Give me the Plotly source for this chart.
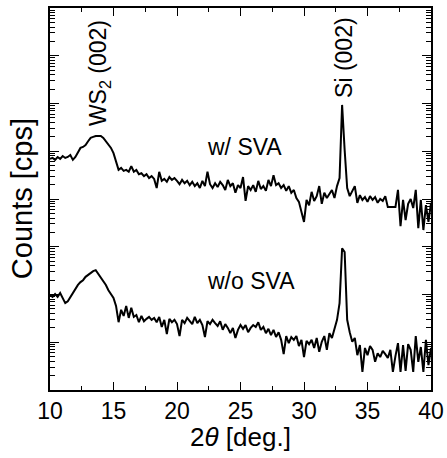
import numpy as np
import plotly.graph_objects as go

# XRD scans, 2theta sampled every 0.2 deg from 10 to 40
two_theta = np.round(np.arange(10.0, 40.0001, 0.2), 1)

# log10 of counts, upper scan is offset for display
log_counts_with_sva = [
    4.84, 4.86, 4.82, 4.88, 4.84, 4.90, 4.86, 4.88, 4.92, 4.82,
    4.88, 4.98, 5.07, 5.09, 5.13, 5.21, 5.28, 5.30, 5.32, 5.32,
    5.32, 5.28, 5.21, 5.13, 5.07, 4.96, 4.77, 4.61, 4.65, 4.59,
    4.61, 4.57, 4.69, 4.57, 4.61, 4.52, 4.54, 4.48, 4.52, 4.44,
    4.48, 4.42, 4.23, 4.57, 4.38, 4.42, 4.36, 4.46, 4.40, 4.44,
    4.38, 4.31, 4.40, 4.33, 4.38, 4.29, 4.36, 4.27, 4.33, 4.23,
    4.38, 4.27, 4.57, 4.31, 4.23, 4.33, 4.25, 4.36, 4.29, 4.19,
    4.40, 4.27, 4.33, 4.13, 4.29, 4.23, 4.46, 3.96, 4.27, 4.19,
    4.29, 4.15, 4.38, 4.21, 4.27, 4.17, 4.40, 4.27, 4.50, 4.29,
    4.33, 4.23, 4.29, 4.17, 4.27, 4.13, 4.19, 4.02, 3.94, 3.73,
    3.52, 3.98, 3.87, 4.15, 3.96, 4.06, 4.27, 3.90, 4.13, 4.02,
    4.10, 4.19, 4.02, 4.27, 4.44, 5.97, 5.03, 4.23, 4.06, 4.15,
    4.27, 3.92, 4.08, 3.98, 4.04, 3.94, 4.06, 3.98, 4.04, 3.92,
    4.00, 3.96, 4.06, 3.83, 3.83, 3.83, 3.83, 4.19, 3.43, 3.98,
    3.56, 3.90, 4.00, 3.81, 4.19, 3.39, 3.98, 3.35, 3.87, 3.52,
    3.92,
]

log_counts_without_sva = [
    1.99, 1.95, 2.01, 1.95, 2.03, 1.93, 1.82, 1.86, 1.95, 2.03,
    2.12, 2.20, 2.26, 2.30, 2.37, 2.41, 2.45, 2.49, 2.51, 2.43,
    2.37, 2.28, 2.20, 2.09, 2.01, 1.93, 1.76, 1.42, 1.68, 1.55,
    1.76, 1.51, 1.72, 1.53, 1.57, 1.42, 1.55, 1.44, 1.49, 1.53,
    1.47, 1.51, 1.42, 1.53, 1.32, 1.47, 1.17, 1.49, 1.42, 1.47,
    1.38, 1.13, 1.47, 1.40, 1.51, 1.44, 1.38, 1.53, 1.40, 1.47,
    1.36, 1.11, 1.44, 1.38, 1.47, 1.40, 1.34, 1.44, 1.26, 1.38,
    1.30, 1.19, 1.30, 1.09, 1.26, 1.36, 1.28, 1.36, 1.21, 1.30,
    1.36, 1.32, 1.42, 1.26, 1.32, 1.19, 1.28, 1.15, 1.26, 1.11,
    1.21, 1.05, 0.75, 1.13, 0.98, 1.11, 1.05, 1.13, 0.92, 1.05,
    0.69, 1.03, 0.96, 1.05, 0.88, 1.09, 0.80, 1.01, 1.13, 0.84,
    1.19, 1.09, 1.30, 1.47, 1.82, 2.97, 2.89, 1.47, 1.21, 1.01,
    1.09, 0.73, 0.94, 0.38, 0.88, 0.73, 0.92, 0.84, 0.59, 0.77,
    0.69, 0.82, 0.75, 0.67, 0.84, 0.38, 0.71, 0.98, 0.38, 0.94,
    0.40, 0.96, 0.84, 0.38, 1.13, 0.59, 0.90, 0.38, 1.05, 0.52,
    0.88,
]

counts_with = 10 ** np.array(log_counts_with_sva)
counts_without = 10 ** np.array(log_counts_without_sva)

FONT = "Liberation Sans, Arial, Helvetica, sans-serif"

fig = go.Figure()

fig.add_trace(
    go.Scatter(
        x=two_theta,
        y=counts_with,
        mode="lines",
        line=dict(color="black", width=2),
        showlegend=False,
    )
)
fig.add_trace(
    go.Scatter(
        x=two_theta,
        y=counts_without,
        mode="lines",
        line=dict(color="black", width=2),
        showlegend=False,
    )
)

# peak labels and sample labels
fig.add_annotation(
    x=13.95, y=0.686, yref="paper", text="WS<sub>2</sub> (002)",
    textangle=-90, yanchor="bottom", showarrow=False,
    font=dict(size=23, color="black"),
)
fig.add_annotation(
    x=33.1, y=0.759, yref="paper", text="Si (002)",
    textangle=-90, yanchor="bottom", showarrow=False,
    font=dict(size=23, color="black"),
)
fig.add_annotation(
    x=22.2, y=0.635, yref="paper", text="w/ SVA", xanchor="left",
    showarrow=False, font=dict(size=23, color="black"),
)
fig.add_annotation(
    x=22.2, y=0.246, yref="paper", text="w/o SVA", xanchor="left",
    showarrow=False, font=dict(size=23, color="black"),
)
# axis titles as annotations for exact placement
fig.add_annotation(
    x=-0.073, y=0.5, xref="paper", yref="paper", text="Counts [cps]",
    xanchor="center", yanchor="middle",
    textangle=-90, showarrow=False, font=dict(size=29, color="black"),
)
fig.add_annotation(
    x=0.5, y=-0.122, xref="paper", yref="paper", text="2<i>θ</i> [deg.]",
    xanchor="center", yanchor="middle", showarrow=False,
    font=dict(size=26, color="black"),
)

fig.update_layout(
    width=447,
    height=458,
    template="plotly_white",
    plot_bgcolor="white",
    paper_bgcolor="white",
    font=dict(family=FONT, color="black", size=23),
    margin=dict(l=50, r=16, t=8, b=68),
)

fig.update_xaxes(
    range=[10, 40],
    dtick=5,
    tick0=10,
    ticks="inside",
    ticklen=8,
    tickwidth=1.2,
    tickcolor="black",
    minor=dict(dtick=2.5, ticks="inside", ticklen=4, tickwidth=1.2, tickcolor="black"),
    showline=True,
    linecolor="black",
    linewidth=1.5,
    mirror="ticks",
    showgrid=False,
    zeroline=False,
    automargin=False,
    tickfont=dict(size=23),
)

fig.update_yaxes(
    type="log",
    range=[0, 8],
    dtick=1,
    ticks="inside",
    ticklen=9,
    tickwidth=1.2,
    tickcolor="black",
    minor=dict(dtick="D1", ticks="inside", ticklen=5, tickwidth=1, tickcolor="black", showgrid=False),
    showticklabels=False,
    showline=True,
    linecolor="black",
    linewidth=1.5,
    mirror="ticks",
    showgrid=False,
    zeroline=False,
    automargin=False,
)

# drop the default 8px body margin so the figure fills the window exactly
fig.write_html(
    "out.html",
    config={"displayModeBar": False},
    post_script="document.body.style.margin='0';document.body.style.overflow='hidden';",
)
